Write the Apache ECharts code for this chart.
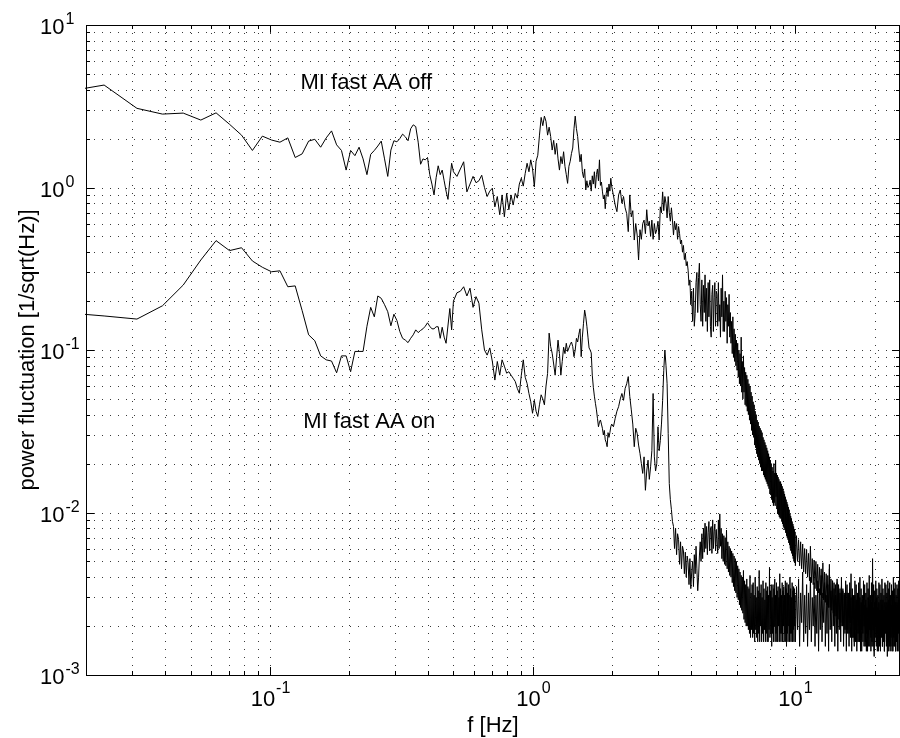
<!DOCTYPE html>
<html>
<head>
<meta charset="utf-8">
<title>MI fast AA spectra</title>
<script src="https://cdn.jsdelivr.net/npm/echarts@6/dist/echarts.min.js"></script>
<style>
  html, body { margin: 0; padding: 0; background: #fff; }
  #chart { width: 900px; height: 738px; }
</style>
</head>
<body>
<div id="chart"></div>
<script>
// FFT bin width (Hz) of the spectra
const BIN_HZ = 1 / 128;

// Axis ranges
const F_MIN = 0.02, F_MAX = 25;
const A_MIN = 0.001, A_MAX = 10;

// Tick positions and tick label exponents
const xMajorTicks = [0.1, 1, 10];
const xTickExponents = ['-1', '0', '1'];
const xMinorTicks = [0.02, 0.03, 0.04, 0.05, 0.06, 0.07, 0.08, 0.09,
                     0.2, 0.3, 0.4, 0.5, 0.6, 0.7, 0.8, 0.9,
                     2, 3, 4, 5, 6, 7, 8, 9, 20];
const yMajorTicks = [0.001, 0.01, 0.1, 1, 10];
const yTickExponents = ['-3', '-2', '-1', '0', '1'];
const yMinorTicks = [0.002, 0.003, 0.004, 0.005, 0.006, 0.007, 0.008, 0.009,
                     0.02, 0.03, 0.04, 0.05, 0.06, 0.07, 0.08, 0.09,
                     0.2, 0.3, 0.4, 0.5, 0.6, 0.7, 0.8, 0.9,
                     2, 3, 4, 5, 6, 7, 8, 9];

// Texts
const xTitle = 'f [Hz]';
const yTitle = 'power fluctuation [1/sqrt(Hz)]';
const labelOff = 'MI fast AA off';
const labelOn = 'MI fast AA on';

// Bin grid of the stored values: first bin and bin step of each block
const blocks = [
  { start: 2, step: 1 },      // 0.016 - 0.5 Hz
  { start: 66, step: 2 },     // 0.5 - 2 Hz
  { start: 260, step: 4 },    // 2 - 5 Hz
  { start: 644, step: 4 },    // 5 - 10 Hz
  { start: 1292, step: 12 }   // 10 - 25 Hz
];

// ---- MI fast, anti-aliasing off ----
const offLow = [
  3.82, 4.27, 3.07, 2.83, 2.87, 2.60, 2.88, 2.45, 2.10, 1.69,
  2.07, 1.96, 1.90, 2.02, 1.53, 1.61, 1.93, 1.98, 1.77, 2.02,
  2.23, 1.83, 1.69, 1.28, 1.69, 1.57, 1.77, 1.50, 1.20, 1.60,
  1.69, 1.80, 1.93, 1.50, 1.17, 1.70, 1.94, 1.91, 2.00, 2.13,
  2.05, 1.94, 2.30, 2.43, 2.37, 1.90, 1.39, 1.50, 1.48, 1.53,
  1.20, 1.05, 0.90, 1.15, 1.36, 1.20, 1.28, 1.10, 0.95, 0.845,
  1.10, 1.41, 1.25
];
const offMid = [
  1.17, 1.30, 1.44, 0.94, 1.05, 1.17, 1.07, 1.10, 1.19, 1.00,
  0.88, 0.95, 0.99, 0.76, 0.88, 0.68, 0.90, 0.66, 0.92, 0.73,
  0.90, 0.78, 0.92, 0.86, 1.05, 1.14, 1.02, 1.22, 1.41, 1.25,
  1.48, 1.30, 1.01, 1.45, 1.58, 2.10, 2.70, 2.40, 2.75, 2.55,
  2.10, 2.35, 2.06, 1.70, 1.95, 1.60, 1.87, 1.50, 1.28, 1.55,
  1.40, 1.66, 1.35, 1.20, 1.06, 1.35, 1.45, 1.62, 1.75, 2.30,
  2.75, 2.30, 2.06, 1.70, 1.44, 1.60, 1.25, 1.15, 1.30, 0.965,
  1.10, 1.00, 1.03, 1.11, 0.95, 1.18, 1.05, 1.25, 0.99, 1.20,
  1.30, 1.10, 1.48, 1.03, 1.08, 0.95, 0.85, 0.90, 0.74, 0.92,
  1.00, 0.88, 1.05, 0.95, 1.14, 1.02
];
const offHigh1 = [
  1.00, 0.78, 0.71, 0.90, 0.965, 0.80, 0.88, 0.75, 0.69, 0.535,
  0.90, 0.66, 0.72, 0.475, 0.60, 0.51, 0.358, 0.55, 0.48, 0.60,
  0.63, 0.52, 0.73, 0.58, 0.62, 0.50, 0.63, 0.48, 0.60, 0.52,
  0.55, 0.62, 0.475, 0.76, 0.70, 0.94, 0.72, 0.88, 0.80, 0.65,
  0.88, 0.70, 0.62, 0.75, 0.63, 0.51, 0.62, 0.55, 0.60, 0.48,
  0.575, 0.52, 0.45, 0.475, 0.40, 0.44, 0.36, 0.394, 0.33, 0.35,
  0.31, 0.25, 0.27, 0.19, 0.23, 0.15, 0.24, 0.14, 0.168, 0.26,
  0.30, 0.17, 0.28, 0.342, 0.19, 0.15, 0.27, 0.14, 0.25, 0.17,
  0.29, 0.15, 0.24, 0.13, 0.26, 0.16, 0.27, 0.14, 0.12, 0.22,
  0.25, 0.13, 0.21, 0.26, 0.14, 0.23
];
const offHigh2 = [
  0.22, 0.14, 0.26, 0.15, 0.19, 0.12, 0.24, 0.16, 0.29, 0.13,
  0.20, 0.13, 0.23, 0.15, 0.21, 0.11, 0.19, 0.14, 0.22, 0.12,
  0.17, 0.11, 0.15, 0.095, 0.16, 0.09, 0.135, 0.085, 0.125, 0.08,
  0.115, 0.075, 0.11, 0.068, 0.10, 0.062, 0.095, 0.06, 0.12, 0.055,
  0.085, 0.05, 0.092, 0.055, 0.078, 0.046, 0.073, 0.045, 0.07, 0.042,
  0.066, 0.04, 0.062, 0.037, 0.06, 0.035, 0.055, 0.032, 0.052, 0.03,
  0.048, 0.029, 0.046, 0.026, 0.042, 0.025, 0.04, 0.023, 0.037, 0.022,
  0.036, 0.021, 0.034, 0.02, 0.033, 0.019, 0.032, 0.018, 0.031, 0.018,
  0.029, 0.017, 0.028, 0.0165, 0.027, 0.016, 0.026, 0.0155, 0.025, 0.015,
  0.024, 0.0145, 0.023, 0.014, 0.022, 0.013, 0.021, 0.0128, 0.02, 0.012,
  0.019, 0.0115, 0.018, 0.011, 0.02, 0.0115, 0.0175, 0.011, 0.021, 0.0125,
  0.0175, 0.0105, 0.017, 0.0098, 0.0165, 0.0097, 0.016, 0.0094, 0.0155, 0.0092,
  0.0155, 0.0092, 0.015, 0.0088, 0.0145, 0.0085, 0.014, 0.0082, 0.0135, 0.008,
  0.013, 0.0078, 0.0125, 0.0075, 0.012, 0.0072, 0.0116, 0.007, 0.0112, 0.0068,
  0.0108, 0.0065, 0.0104, 0.0063, 0.0098, 0.006, 0.0095, 0.0058, 0.0092, 0.0056,
  0.0088, 0.0054, 0.0085, 0.0052, 0.0082, 0.005, 0.0079, 0.0049, 0.0076, 0.0047
];
const offHigh3 = [
  0.0072, 0.0050, 0.0068, 0.0047, 0.0066, 0.0045, 0.0064, 0.0043, 0.0060, 0.0042,
  0.0059, 0.0040, 0.0056, 0.0038, 0.0062, 0.0037, 0.0052, 0.0036, 0.0051, 0.0034,
  0.0050, 0.0033, 0.0048, 0.0032, 0.0046, 0.0031, 0.0045, 0.0030, 0.0049, 0.0029,
  0.0043, 0.0028, 0.0042, 0.0027, 0.0041, 0.0026, 0.0045, 0.0026, 0.0039, 0.0025,
  0.0038, 0.0024, 0.0037, 0.0023, 0.0036, 0.0023, 0.0039, 0.0022, 0.0035, 0.0022,
  0.0034, 0.0021, 0.0035, 0.0020, 0.0033, 0.0020, 0.0032, 0.0019, 0.0035, 0.0019,
  0.0032, 0.0018, 0.0031, 0.0018, 0.0034, 0.0017, 0.0030, 0.0017, 0.0031, 0.0017,
  0.0030, 0.0016, 0.0031, 0.0016, 0.0029, 0.0016, 0.0030, 0.0016, 0.0029, 0.0016,
  0.0030, 0.0017, 0.0028, 0.0014, 0.0029, 0.0018, 0.0031, 0.0015, 0.0027, 0.0016,
  0.0029, 0.0014, 0.0026, 0.0017, 0.0030, 0.0015, 0.0027, 0.0019, 0.0029, 0.0014,
  0.0028, 0.0016, 0.0031, 0.0015, 0.0026, 0.0013, 0.0028, 0.0017, 0.0027, 0.0015,
  0.0030, 0.0014, 0.0026, 0.0018, 0.0028, 0.0015, 0.0025, 0.0014, 0.0029, 0.0017,
  0.0027, 0.0015, 0.0029, 0.0016, 0.0025, 0.0014, 0.0028, 0.0018, 0.0026, 0.0015,
  0.0028, 0.0013, 0.0026, 0.0016, 0.0029, 0.0015, 0.0027, 0.0014, 0.0025, 0.0017,
  0.0027, 0.0015, 0.0030, 0.0014, 0.0026, 0.0017, 0.0027, 0.0015, 0.0028, 0.0014,
  0.0026, 0.0016, 0.0028, 0.0014, 0.0027, 0.0018, 0.0025, 0.0014, 0.0028, 0.0016
];

// ---- MI fast, anti-aliasing on ----
const onLow = [
  0.171, 0.162, 0.155, 0.187, 0.251, 0.358, 0.471, 0.409, 0.426, 0.353,
  0.323, 0.303, 0.307, 0.245, 0.248, 0.175, 0.124, 0.114, 0.092, 0.087,
  0.0855, 0.0724, 0.092, 0.092, 0.0735, 0.098, 0.098, 0.098, 0.140, 0.183,
  0.160, 0.215, 0.208, 0.190, 0.172, 0.141, 0.166, 0.152, 0.130, 0.118,
  0.115, 0.111, 0.118, 0.124, 0.133, 0.128, 0.132, 0.135, 0.140, 0.147,
  0.140, 0.135, 0.135, 0.139, 0.139, 0.118, 0.138, 0.120, 0.110, 0.110,
  0.180, 0.133, 0.200
];
const onMid = [
  0.225, 0.23, 0.245, 0.215, 0.24, 0.183, 0.213, 0.194, 0.133, 0.10,
  0.093, 0.103, 0.085, 0.0653, 0.085, 0.070, 0.087, 0.0795, 0.072, 0.0735,
  0.070, 0.067, 0.064, 0.058, 0.0542, 0.070, 0.087, 0.068, 0.0623, 0.054,
  0.048, 0.0408, 0.049, 0.042, 0.039, 0.046, 0.053, 0.050, 0.046, 0.060,
  0.0718, 0.127, 0.105, 0.0955, 0.082, 0.070, 0.090, 0.115, 0.095, 0.070,
  0.085, 0.104, 0.095, 0.11, 0.098, 0.10, 0.108, 0.112, 0.105, 0.091,
  0.10, 0.118, 0.112, 0.125, 0.135, 0.091, 0.12, 0.146, 0.176, 0.16,
  0.14, 0.12, 0.103, 0.10, 0.096, 0.07, 0.059, 0.052, 0.047, 0.0428,
  0.038, 0.0337, 0.036, 0.0371, 0.035, 0.033, 0.030, 0.032, 0.028, 0.027,
  0.0254, 0.031, 0.029, 0.031, 0.0337, 0.035
];
const onHigh1 = [
  0.0337, 0.038, 0.042, 0.0448, 0.050, 0.054, 0.049, 0.058, 0.062, 0.0686,
  0.0517, 0.0428, 0.035, 0.0254, 0.033, 0.0307, 0.026, 0.0231, 0.020, 0.0174,
  0.022, 0.0137, 0.018, 0.021, 0.016, 0.0191, 0.024, 0.054, 0.022, 0.018,
  0.020, 0.0337, 0.024, 0.0277, 0.035, 0.049, 0.075, 0.10, 0.080, 0.062,
  0.0307, 0.0151, 0.012, 0.0104, 0.0088, 0.0082, 0.0060, 0.0080, 0.0055, 0.0074,
  0.0068, 0.0048, 0.0066, 0.0045, 0.0062, 0.0058, 0.0042, 0.0057, 0.0040, 0.0054,
  0.0049, 0.0036, 0.0052, 0.0034, 0.0043, 0.0050, 0.0035, 0.0055, 0.0042, 0.0062,
  0.0045, 0.0033, 0.0040, 0.0054, 0.0066, 0.0050, 0.0074, 0.0052, 0.0080, 0.0057,
  0.0086, 0.0060, 0.0082, 0.0055, 0.0075, 0.0088, 0.0058, 0.0078, 0.0082, 0.0056,
  0.0090, 0.0060, 0.0076, 0.0085, 0.0058, 0.0078
];
const onHigh2 = [
  0.0078, 0.0056, 0.0090, 0.0060, 0.0098, 0.0062, 0.0080, 0.0052, 0.0074, 0.0050,
  0.0072, 0.0048, 0.0070, 0.0047, 0.0078, 0.0045, 0.0066, 0.0043, 0.0062, 0.0041,
  0.0060, 0.0040, 0.0058, 0.0037, 0.0056, 0.0035, 0.0054, 0.0033, 0.0052, 0.0032,
  0.0050, 0.0030, 0.0047, 0.0029, 0.0045, 0.0027, 0.0043, 0.0026, 0.0041, 0.0025,
  0.0040, 0.0024, 0.0044, 0.0022, 0.0038, 0.0021, 0.0036, 0.0020, 0.0039, 0.0020,
  0.0035, 0.0019, 0.0034, 0.0018, 0.0041, 0.0017, 0.0032, 0.0019, 0.0036, 0.0017,
  0.0037, 0.0018, 0.0031, 0.0016, 0.0040, 0.0019, 0.0030, 0.0017, 0.0035, 0.0016,
  0.0033, 0.0018, 0.0044, 0.0016, 0.0032, 0.0020, 0.0036, 0.0016, 0.0030, 0.0018,
  0.0038, 0.0016, 0.0034, 0.0019, 0.0029, 0.0016, 0.0037, 0.0018, 0.0033, 0.0016,
  0.0035, 0.0016, 0.0031, 0.0019, 0.0046, 0.0017, 0.0033, 0.0018, 0.0036, 0.0015,
  0.0030, 0.0018, 0.0036, 0.0016, 0.0034, 0.0020, 0.0039, 0.0016, 0.0031, 0.0018,
  0.0037, 0.0016, 0.0033, 0.0016, 0.0035, 0.0020, 0.0030, 0.0016, 0.0042, 0.0018,
  0.0034, 0.0016, 0.0031, 0.0018, 0.0037, 0.0016, 0.0033, 0.0020, 0.0035, 0.0016,
  0.0031, 0.0018, 0.0038, 0.0016, 0.0034, 0.0015, 0.0037, 0.0018, 0.0032, 0.0016,
  0.0036, 0.0020, 0.0031, 0.0016, 0.0040, 0.0018, 0.0034, 0.0016, 0.0030, 0.0018,
  0.0037, 0.0016, 0.0033, 0.0019, 0.0035, 0.0016, 0.0034, 0.0020, 0.0031, 0.0016
];
const onHigh3 = [
  0.0035, 0.0019, 0.0039, 0.0015, 0.0032, 0.0021, 0.0043, 0.0016, 0.0031, 0.0018,
  0.0036, 0.0015, 0.0032, 0.0019, 0.0040, 0.0016, 0.0030, 0.0020, 0.0037, 0.0015,
  0.0031, 0.0018, 0.0038, 0.0014, 0.0034, 0.0019, 0.0041, 0.0016, 0.0032, 0.0021,
  0.0037, 0.0015, 0.0031, 0.0018, 0.0036, 0.0014, 0.0048, 0.0019, 0.0033, 0.0016,
  0.0038, 0.0020, 0.0034, 0.0015, 0.0031, 0.0018, 0.0037, 0.0014, 0.0036, 0.0019,
  0.0032, 0.0016, 0.0040, 0.0020, 0.0034, 0.0015, 0.0031, 0.0018, 0.0038, 0.0014,
  0.0036, 0.0019, 0.0032, 0.0015, 0.0037, 0.0021, 0.0042, 0.0014, 0.0034, 0.0017,
  0.0031, 0.0015, 0.0038, 0.0019, 0.0036, 0.0014, 0.0032, 0.0018, 0.0037, 0.0016,
  0.0040, 0.0014, 0.0034, 0.0019, 0.0031, 0.0016, 0.0038, 0.0020, 0.0036, 0.0015,
  0.0032, 0.0018, 0.0037, 0.0014, 0.0034, 0.0019, 0.0041, 0.0015, 0.0031, 0.0017,
  0.0037, 0.0015, 0.0052, 0.0019, 0.0036, 0.0014, 0.0033, 0.0020, 0.0038, 0.0016,
  0.0034, 0.0018, 0.0031, 0.0014, 0.0037, 0.0017, 0.0036, 0.0015, 0.0032, 0.0019,
  0.0039, 0.0015, 0.0034, 0.0018, 0.0031, 0.0014, 0.0037, 0.0019, 0.0036, 0.0016,
  0.0032, 0.0019, 0.0038, 0.0014, 0.0034, 0.0017, 0.0037, 0.0015, 0.0031, 0.0020,
  0.0036, 0.0014, 0.0033, 0.0018, 0.0040, 0.0015, 0.0034, 0.0019, 0.0037, 0.0014,
  0.0031, 0.0017, 0.0036, 0.0015, 0.0034, 0.0019, 0.0038, 0.0014, 0.0033, 0.0018
];

// Pair each stored value with the frequency of its bin
function spectrum(parts) {
  const pts = [];
  parts.forEach((vals, i) => {
    const b = blocks[i];
    vals.forEach((v, k) => pts.push([(b.start + k * b.step) * BIN_HZ, v]));
  });
  return pts;
}

const FONT_FAMILY = '"Liberation Sans", Arial, Helvetica, sans-serif';
const BASE_FONT = '22px ' + FONT_FAMILY;
const EXP_FONT = '16px ' + FONT_FAMILY;
const TICK_MAJOR = 8, TICK_MINOR = 4;
const GRID_STYLE = { stroke: '#3a3a3a', lineWidth: 1, lineDash: [1, 7] };
const TICK_STYLE = { stroke: '#000', lineWidth: 1 };

const measureCtx = document.createElement('canvas').getContext('2d');
function textWidth(str, font) {
  measureCtx.font = font;
  return measureCtx.measureText(str).width;
}
function seg(x1, y1, x2, y2, style) {
  return { type: 'line', shape: { x1, y1, x2, y2 }, style };
}
function txt(str, x, y, font, align) {
  return {
    type: 'text', x, y,
    style: { text: str, font, fill: '#000', align: align || 'left', verticalAlign: 'middle',
             textAlign: align || 'left', textVerticalAlign: 'middle' }
  };
}

// Tick rows: [x, y, axis (0 = x, 1 = y), major flag, label index]
const tickData = [];
xMajorTicks.forEach((v, i) => tickData.push([v, 1, 0, 1, i]));
xMinorTicks.forEach(v => tickData.push([v, 1, 0, 0, -1]));
yMajorTicks.forEach((v, i) => tickData.push([1, v, 1, 1, i]));
yMinorTicks.forEach(v => tickData.push([1, v, 1, 0, -1]));

// Dotted grid lines, inward ticks and "10^n" tick labels
function renderTicks(params, api) {
  const cs = params.coordSys;
  const left = cs.x, top = cs.y, right = cs.x + cs.width, bottom = cs.y + cs.height;
  const isX = api.value(2) === 0;
  const major = api.value(3) === 1;
  const len = major ? TICK_MAJOR : TICK_MINOR;
  const children = [];
  if (isX) {
    const px = Math.round(api.coord([api.value(0), 1])[0]) + 0.5;
    children.push(seg(px, top, px, bottom, GRID_STYLE));
    children.push(seg(px, bottom, px, bottom - len, TICK_STYLE));
    children.push(seg(px, top, px, top + len, TICK_STYLE));
    if (major) {
      const exp = xTickExponents[api.value(4)];
      const wBase = textWidth('10', BASE_FONT);
      const wExp = textWidth(exp, EXP_FONT);
      const x0 = px - (wBase + wExp + 1) / 2;
      children.push(txt('10', x0, bottom + 25, BASE_FONT));
      children.push(txt(exp, x0 + wBase + 1, bottom + 14, EXP_FONT));
    }
  } else {
    const py = Math.round(api.coord([1, api.value(1)])[1]) + 0.5;
    children.push(seg(left, py, right, py, GRID_STYLE));
    children.push(seg(left, py, left + len, py, TICK_STYLE));
    children.push(seg(right, py, right - len, py, TICK_STYLE));
    if (major) {
      const exp = yTickExponents[api.value(4)];
      const wBase = textWidth('10', BASE_FONT);
      children.push(txt('10', 40, py + 2, BASE_FONT));
      children.push(txt(exp, 40 + wBase + 1, py - 6, EXP_FONT));
    }
  }
  return { type: 'group', children };
}

// Axes box
function renderFrame(params) {
  const cs = params.coordSys;
  const l = cs.x + 0.5, t = cs.y + 0.5, r = cs.x + cs.width - 0.5, b = cs.y + cs.height + 0.5;
  const st = { stroke: '#000', lineWidth: 1 };
  return { type: 'group', children: [
    seg(l, t, r, t, st), seg(l, b, r, b, st), seg(l, t, l, b, st), seg(r, t, r, b, st)
  ] };
}

const lineStyle = { color: '#000', width: 1 };
const hiddenAxis = {
  type: 'log', logBase: 10,
  axisLine: { show: false }, axisTick: { show: false },
  axisLabel: { show: false }, splitLine: { show: false }, minorSplitLine: { show: false }
};

const chart = echarts.init(document.getElementById('chart'));
chart.setOption({
  animation: false,
  backgroundColor: '#fff',
  grid: { left: 86, top: 25, width: 822, height: 650 },
  xAxis: Object.assign({}, hiddenAxis, { min: F_MIN, max: F_MAX }),
  yAxis: Object.assign({}, hiddenAxis, { min: A_MIN, max: A_MAX }),
  series: [
    { type: 'custom', name: 'ticks', renderItem: renderTicks, data: tickData,
      z: 1, silent: true, clip: false },
    { type: 'line', name: labelOff, data: spectrum([offLow, offMid, offHigh1, offHigh2, offHigh3]),
      symbol: 'none', lineStyle, itemStyle: { color: '#000' }, z: 2, clip: true, silent: true },
    { type: 'line', name: labelOn, data: spectrum([onLow, onMid, onHigh1, onHigh2, onHigh3]),
      symbol: 'none', lineStyle, itemStyle: { color: '#000' }, z: 2, clip: true, silent: true },
    { type: 'custom', name: 'frame', renderItem: renderFrame, data: [[1, 1]],
      z: 3, silent: true, clip: false }
  ]
});

// Titles and curve annotations, placed from data coordinates
const [gx0, gy1] = chart.convertToPixel({ gridIndex: 0 }, [F_MIN, A_MIN]);
const [gx1, gy0] = chart.convertToPixel({ gridIndex: 0 }, [F_MAX, A_MAX]);
const pOff = chart.convertToPixel({ gridIndex: 0 }, [0.131, 4.37]);
const pOn = chart.convertToPixel({ gridIndex: 0 }, [0.134, 0.036]);
function gText(str, x, y, align, rotation) {
  return {
    type: 'text', x, y, rotation: rotation || 0, silent: true,
    style: { text: str, font: BASE_FONT, fill: '#000', align, verticalAlign: 'middle',
             textAlign: align, textVerticalAlign: 'middle' }
  };
}
chart.setOption({
  graphic: [
    gText(xTitle, (gx0 + gx1) / 2, gy1 + 51, 'center'),
    gText(yTitle, 27.5, (gy0 + gy1) / 2, 'center', Math.PI / 2),
    gText(labelOff, pOff[0], pOff[1], 'left'),
    gText(labelOn, pOn[0], pOn[1], 'left')
  ]
});
</script>
</body>
</html>
